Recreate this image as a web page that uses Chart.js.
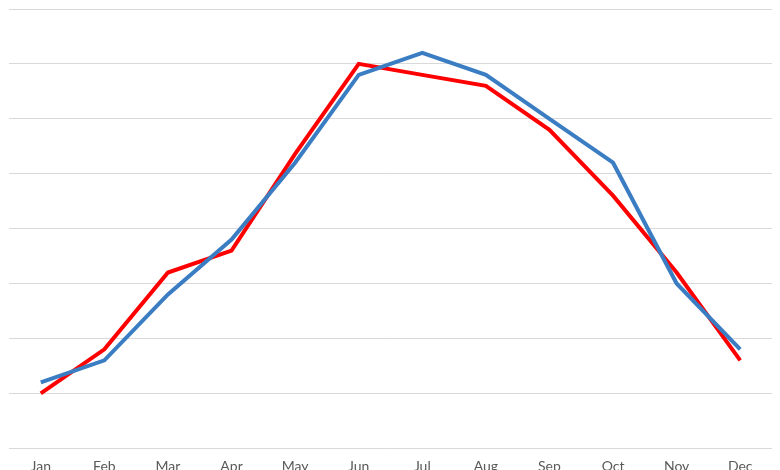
<!DOCTYPE html>
<html>
<head>
<meta charset="utf-8">
<script src="https://cdn.jsdelivr.net/npm/chart.js@4"></script>
<style>
html,body{margin:0;padding:0;background:#fff;overflow:hidden;}
#wrap{width:780px;height:470px;overflow:hidden;}
</style>
</head>
<body>
<div id="wrap"><canvas id="c" width="780" height="485"></canvas></div>
<script>
const months = ["Jan","Feb","Mar","Apr","May","Jun","Jul","Aug","Sep","Oct","Nov","Dec"];
const blueSeries = [6, 8, 14, 19, 26, 34, 36, 34, 30, 26, 15, 9];
const redSeries  = [5, 9, 16, 18, 26.8, 35, 34, 33, 29, 23, 16, 8];
const yMin = 0, yMax = 40, yStep = 5;

new Chart(document.getElementById('c'), {
  type: 'line',
  data: {
    labels: months,
    datasets: [
      { label: 'Series 1', data: blueSeries, borderColor: '#3A7DC2', borderWidth: 4,
        pointRadius: 0, tension: 0, fill: false },
      { label: 'Series 2', data: redSeries, borderColor: '#FF0000', borderWidth: 4,
        pointRadius: 0, tension: 0, fill: false }
    ]
  },
  options: {
    responsive: false,
    animation: false,
    layout: { padding: { left: 9, right: 8, top: 9, bottom: 0 } },
    plugins: { legend: { display: false }, tooltip: { enabled: false } },
    scales: {
      x: {
        offset: true,
        grid: { display: false, drawTicks: false },
        border: { display: false },
        ticks: { color: '#595959', font: { family: 'Lato', size: 14 }, padding: 10, maxRotation: 0 }
      },
      y: {
        min: yMin, max: yMax,
        ticks: { display: false, stepSize: yStep },
        grid: { color: '#d9d9d9', lineWidth: 1, drawTicks: false },
        border: { display: false }
      }
    }
  }
});
</script>
</body>
</html>
